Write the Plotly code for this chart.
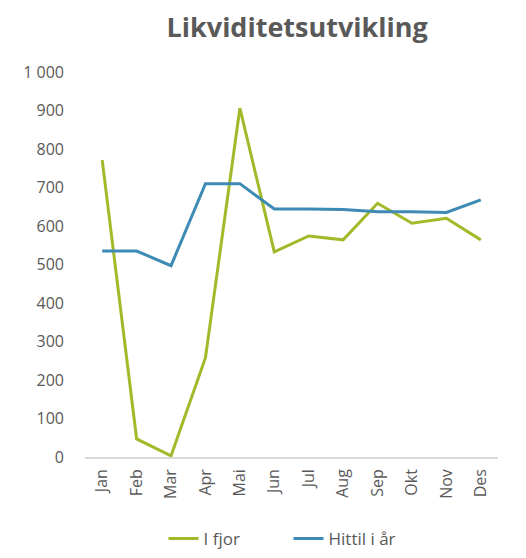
import plotly.graph_objects as go

months = ["Jan", "Feb", "Mar", "Apr", "Mai", "Jun", "Jul", "Aug", "Sep", "Okt", "Nov", "Des"]
i_fjor = [771, 47, 3, 258, 906, 533, 574, 564, 659, 607, 620, 564]
hittil = [535, 535, 497, 710, 710, 644, 644, 643, 637, 637, 635, 668]
yticks = [0, 100, 200, 300, 400, 500, 600, 700, 800, 900, 1000]

font_family = "'Open Sans', sans-serif"
gray = "#595959"

W, H = 510, 542  # page adds an 8px body margin

fig = go.Figure()
fig.add_trace(go.Scatter(x=months, y=i_fjor, name="I fjor", mode="lines",
                         line=dict(color="#a2b92a", width=3), cliponaxis=False))
fig.add_trace(go.Scatter(x=months, y=hittil, name="Hittil i år", mode="lines",
                         line=dict(color="#3d8bb5", width=3), cliponaxis=False))

fig.update_layout(
    width=W, height=H,
    paper_bgcolor="white", plot_bgcolor="white",
    separators=", ",
    margin=dict(l=77, r=20, t=64, b=93, autoexpand=False),
    title=dict(text="<b>Likviditetsutvikling</b>", x=0.567, xanchor="center",
               y=1 - 20 / H, yanchor="middle", yref="container",
               font=dict(family=font_family, size=27, color=gray)),
    font=dict(family=font_family, color=gray),
    showlegend=True,
    legend=dict(orientation="h", x=0.55, xanchor="center", xref="container",
                y=11 / H, yanchor="middle", yref="container",
                font=dict(size=17, color=gray), traceorder="normal",
                entrywidth=80, entrywidthmode="pixels"),
    xaxis=dict(type="category", range=[-0.5, 11.5], showgrid=False, zeroline=False,
               showline=True, linecolor="#d9d9d9", linewidth=1.5,
               tickangle=-90, tickfont=dict(size=16, color=gray), ticks="",
               ticklabelstandoff=4),
    yaxis=dict(range=[0, 1000], tickvals=yticks, tickformat=",d", showgrid=False,
               zeroline=False, showline=False, ticks="",
               tickfont=dict(size=16, color=gray), ticklabelstandoff=20),
)

fig.write_html("out.html")
